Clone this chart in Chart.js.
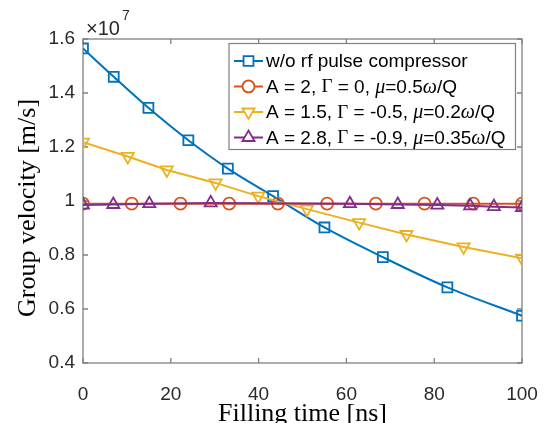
<!DOCTYPE html>
<html>
<head>
<meta charset="utf-8">
<script src="https://cdn.jsdelivr.net/npm/chart.js"></script>
<style>
  html, body { margin: 0; padding: 0; background: #fff; }
  #wrap { width: 546px; height: 423px; }
</style>
</head>
<body>
<div id="wrap"><canvas id="chart" width="546" height="423"></canvas></div>
<script>
// filling time [ns] and group velocity [x1e7 m/s]
const xBlue = [0, 7, 14.9, 24, 33, 43.3, 55, 68.3, 83, 100];
const yBlue = [1.565, 1.46, 1.345, 1.225, 1.12, 1.018, 0.902, 0.792, 0.68, 0.575];
const xRed = [0, 11.1, 22.2, 33.3, 44.4, 55.6, 66.7, 77.8, 88.9, 100];
const yRed = [0.99, 0.99, 0.99, 0.99, 0.99, 0.99, 0.99, 0.99, 0.99, 0.99];
const xYellow = [0, 10.2, 19.1, 30.2, 39.9, 51, 62.9, 73.7, 86.7, 100];
const yYellow = [1.218, 1.165, 1.115, 1.067, 1.018, 0.97, 0.92, 0.876, 0.83, 0.788];
const xPurple = [0, 6.9, 15.1, 29.1, 60.8, 71.7, 80.7, 88.2, 93.6, 100];
const yPurple = [0.985, 0.987, 0.99, 0.993, 0.99, 0.987, 0.985, 0.982, 0.979, 0.976];

const seriesNames = [
    'w/o rf pulse compressor',
    'A = 2, \u0393 = 0, \u03bc=0.5\u03c9/Q',
    'A = 1.5, \u0393 = -0.5, \u03bc=0.2\u03c9/Q',
    'A = 2.8, \u0393 = -0.9, \u03bc=0.35\u03c9/Q'
];

const xTicks = [0, 20, 40, 60, 80, 100];
const xTickLabels = ['0', '20', '40', '60', '80', '100'];
const yTicks = [0.4, 0.6, 0.8, 1, 1.2, 1.4, 1.6];
const yTickLabels = ['0.4', '0.6', '0.8', '1', '1.2', '1.4', '1.6'];

const xTitle = 'Filling time [ns]';
const yTitle = 'Group velocity [m/s]';
const expBase = '\u00d710';
const expPower = '7';

const colors = ['#0072BD', '#D95319', '#EDB120', '#7E2F8E'];
const markers = ['rect', 'circle', 'triangle', 'triangle'];
const markerRot = [0, 0, 180, 0];
const markerSize = [7, 6, 7, 7];

const SANS = '"Liberation Sans", Arial, sans-serif';
const SERIF = '"Liberation Serif", "Times New Roman", serif';
const frameColor = '#808080';
const textColor = '#2a2a2a';

function pts(xs, ys) {
    return xs.map((x, i) => ({x: x, y: ys[i]}));
}

const allX = [xBlue, xRed, xYellow, xPurple];
const allY = [yBlue, yRed, yYellow, yPurple];

let datasets = seriesNames.map((name, i) => ({
    label: name,
    data: pts(allX[i], allY[i]),
    borderColor: colors[i],
    backgroundColor: 'rgba(255,255,255,0)',
    borderWidth: 2,
    pointStyle: markers[i],
    pointRotation: markerRot[i],
    pointRadius: markerSize[i],
    pointBorderWidth: 1.8,
    pointBorderColor: colors[i],
    pointBackgroundColor: 'rgba(255,255,255,0)',
    cubicInterpolationMode: i === 0 ? 'monotone' : 'default',
    order: 4 - i
}));

// box, inward ticks on all four sides
const framePlugin = {
    id: 'frame',
    beforeDatasetsDraw(chart) {
        const {ctx, chartArea: a, scales} = chart;
        ctx.save();
        ctx.strokeStyle = frameColor;
        ctx.lineWidth = 1.3;
        ctx.strokeRect(a.left, a.top, a.right - a.left, a.bottom - a.top);
        ctx.beginPath();
        xTicks.forEach((v) => {
            let px = scales.x.getPixelForValue(v);
            ctx.moveTo(px, a.bottom); ctx.lineTo(px, a.bottom - 5);
            ctx.moveTo(px, a.top); ctx.lineTo(px, a.top + 5);
        });
        yTicks.forEach((v) => {
            let py = scales.y.getPixelForValue(v);
            ctx.moveTo(a.left, py); ctx.lineTo(a.left + 5, py);
            ctx.moveTo(a.right, py); ctx.lineTo(a.right - 5, py);
        });
        ctx.stroke();
        ctx.restore();
    }
};

function fontFor(ch) {
    if (ch === '\u0393') return '19px ' + SERIF;
    if (ch === '\u03bc' || ch === '\u03c9') return 'italic 20px ' + SERIF;
    return '19px ' + SANS;
}

// draw a string, switching to the serif face for greek symbols
function mixedText(ctx, str, x, y) {
    let runs = [];
    for (const ch of str) {
        let f = fontFor(ch);
        if (runs.length && runs[runs.length - 1].f === f) runs[runs.length - 1].t += ch;
        else runs.push({t: ch, f: f});
    }
    runs.forEach((r) => {
        ctx.font = r.f;
        ctx.fillText(r.t, x, y);
        x += ctx.measureText(r.t).width;
    });
}

const legendPlugin = {
    id: 'boxLegend',
    afterDatasetsDraw(chart) {
        const ctx = chart.ctx;
        const box = {left: 229, top: 43.5, right: 515.5, bottom: 149.5};
        ctx.save();
        ctx.fillStyle = '#fff';
        ctx.fillRect(box.left, box.top, box.right - box.left, box.bottom - box.top);
        ctx.strokeStyle = frameColor;
        ctx.lineWidth = 1.2;
        ctx.strokeRect(box.left, box.top, box.right - box.left, box.bottom - box.top);
        seriesNames.forEach((name, i) => {
            let y = 61 + i * 25.5;
            ctx.strokeStyle = colors[i];
            ctx.lineWidth = 2;
            ctx.beginPath();
            ctx.moveTo(234, y); ctx.lineTo(263, y);
            ctx.stroke();
            ctx.fillStyle = '#fff';
            ctx.lineWidth = 1.8;
            Chart.helpers.drawPoint(ctx, {
                pointStyle: markers[i], radius: markerSize[i],
                rotation: markerRot[i], borderWidth: 1.8
            }, 248.5, y);
            ctx.fillStyle = '#000';
            ctx.textBaseline = 'middle';
            ctx.textAlign = 'left';
            mixedText(ctx, name, 266, y + 1);
        });
        ctx.restore();
    }
};

const labelPlugin = {
    id: 'labels',
    afterDraw(chart) {
        const {ctx, chartArea: a} = chart;
        ctx.save();
        ctx.fillStyle = '#000';
        ctx.textAlign = 'center';
        ctx.textBaseline = 'alphabetic';
        ctx.font = '26px ' + SERIF;
        ctx.fillText(xTitle, (a.left + a.right) / 2, 421);
        ctx.translate(35, 208);
        ctx.rotate(-Math.PI / 2);
        ctx.fillText(yTitle, 0, 0);
        ctx.restore();

        ctx.save();
        ctx.fillStyle = textColor;
        ctx.textAlign = 'left';
        ctx.textBaseline = 'alphabetic';
        ctx.font = '20px ' + SANS;
        ctx.fillText(expBase, a.left + 3, 35);
        let w = ctx.measureText(expBase).width;
        ctx.font = '14px ' + SANS;
        ctx.fillText(expPower, a.left + 5 + w, 20);
        ctx.restore();
    }
};

new Chart(document.getElementById('chart'), {
    type: 'line',
    data: {datasets: datasets},
    options: {
        responsive: false,
        animation: false,
        layout: {padding: {left: 0, right: 24, top: 39, bottom: 0}},
        plugins: {legend: {display: false}, tooltip: {enabled: false}},
        scales: {
            x: {
                type: 'linear', min: 0, max: 100,
                grid: {display: false, drawTicks: false},
                border: {display: false},
                afterBuildTicks: (s) => { s.ticks = xTicks.map((v) => ({value: v})); },
                afterFit: (s) => { s.height = 60; s.paddingLeft = 0; s.paddingRight = 0; },
                ticks: {
                    padding: 20, color: textColor, maxRotation: 0,
                    font: {family: SANS, size: 19},
                    callback: (v, i) => xTickLabels[i]
                }
            },
            y: {
                type: 'linear', min: 0.4, max: 1.6,
                grid: {display: false, drawTicks: false},
                border: {display: false},
                afterBuildTicks: (s) => { s.ticks = yTicks.map((v) => ({value: v})); },
                afterFit: (s) => { s.width = 83; s.paddingTop = 0; s.paddingBottom = 0; },
                ticks: {
                    padding: 8, color: textColor,
                    font: {family: SANS, size: 19},
                    callback: (v, i) => yTickLabels[i]
                }
            }
        }
    },
    plugins: [framePlugin, legendPlugin, labelPlugin]
});
</script>
</body>
</html>
